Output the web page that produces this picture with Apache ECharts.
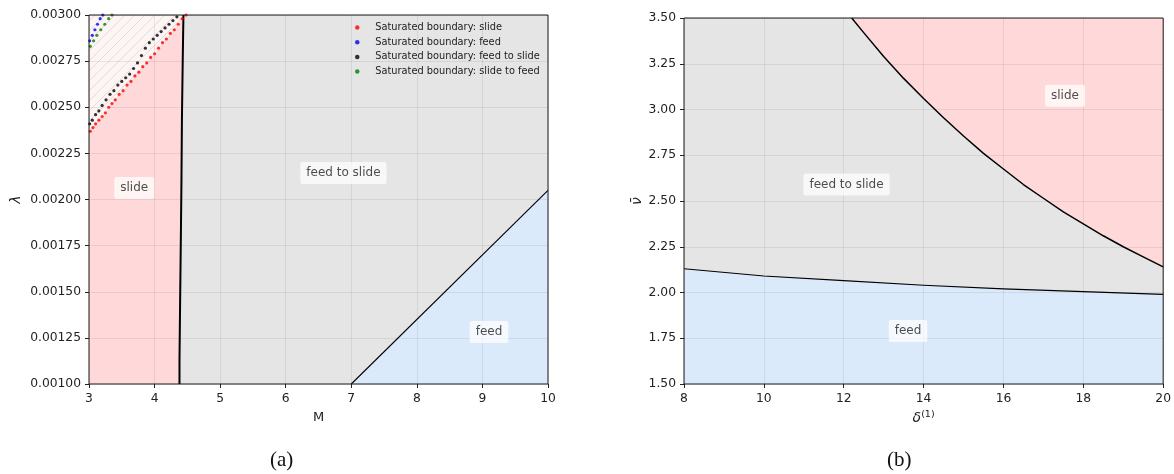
<!DOCTYPE html>
<html><head><meta charset="utf-8">
<script src="https://cdn.jsdelivr.net/npm/echarts@6/dist/echarts.min.js"></script>
<style>html,body{margin:0;padding:0;background:#fff}#c{width:1174px;height:474px}</style>
</head><body><div id="c"></div>
<script>
// ---------- tick labels ----------
const leftXTicks = [3, 4, 5, 6, 7, 8, 9, 10];
const leftYTicks = [0.001, 0.00125, 0.0015, 0.00175, 0.002, 0.00225, 0.0025, 0.00275, 0.003];
const rightXTicks = [8, 10, 12, 14, 16, 18, 20];
const rightYTicks = [1.5, 1.75, 2.0, 2.25, 2.5, 2.75, 3.0, 3.25, 3.5];

// ---------- panel (a): M vs lambda ----------
const slideBoundaryA = [[4.38,0.001],[4.38,0.00113],[4.39,0.00113],[4.39,0.00146],[4.40,0.00146],[4.40,0.00177],
  [4.41,0.00177],[4.41,0.0021],[4.417,0.0021],[4.417,0.00243],[4.43,0.00243],[4.43,0.00277],[4.44,0.00277],[4.44,0.003]];
const feedBoundaryA = [[7,0.001],[10,0.00205]];
const satSlide = [[3.02,0.00237],[3.06,0.00239],[3.10,0.00241],[3.15,0.00243],[3.20,0.00245],[3.25,0.00247],[3.30,0.00250],
  [3.35,0.00252],[3.40,0.00254],[3.46,0.00257],[3.52,0.00259],[3.58,0.00262],[3.64,0.00264],[3.70,0.00267],[3.76,0.00269],
  [3.82,0.00272],[3.88,0.00274],[3.94,0.00277],[4.00,0.00279],[4.06,0.00282],[4.12,0.00285],[4.18,0.00287],[4.24,0.00290],
  [4.30,0.00292],[4.36,0.00295],[4.42,0.00298],[4.48,0.00300]];
const satFeed = [[3.01,0.00286],[3.05,0.00289],[3.09,0.00292],[3.13,0.00295],[3.17,0.00298],[3.21,0.00300]];
const satFeedToSlide = [[3.01,0.00241],[3.05,0.00243],[3.10,0.00246],[3.15,0.00248],[3.20,0.00251],[3.26,0.00254],
  [3.32,0.00257],[3.38,0.00259],[3.44,0.00262],[3.50,0.00264],[3.56,0.00266],[3.62,0.00268],[3.68,0.00271],[3.74,0.00274],
  [3.80,0.00278],[3.86,0.00282],[3.92,0.00285],[3.98,0.00287],[4.04,0.00289],[4.10,0.00291],[4.16,0.00293],[4.22,0.00295],
  [4.28,0.00297],[4.34,0.00299]];
const satSlideToFeed = [[3.02,0.00283],[3.07,0.00286],[3.12,0.00289],[3.18,0.00292],[3.24,0.00295],[3.30,0.00298],[3.35,0.00300]];
const regionLabelsA = [['slide',3.69,0.002062],['feed to slide',6.88,0.002144],['feed',9.1,0.001282]];

// ---------- panel (b): delta vs nu ----------
const slideBoundaryB = [[12.2,3.50],[12.5,3.42],[13,3.29],[13.5,3.17],[14,3.06],[14.5,2.955],[15,2.855],[15.5,2.76],[16,2.675],
  [16.5,2.59],[17,2.515],[17.5,2.44],[18,2.375],[18.5,2.31],[19,2.25],[19.5,2.195],[20,2.14]];
const feedBoundaryB = [[8,2.13],[10,2.09],[12,2.065],[14,2.04],[16,2.02],[18,2.005],[20,1.99]];
const regionLabelsB = [['slide',17.54,3.075],['feed to slide',12.07,2.59],['feed',13.61,1.79]];

const legendNames = ['Saturated boundary: slide','Saturated boundary: feed','Saturated boundary: feed to slide','Saturated boundary: slide to feed'];

// ---------- styles ----------
const PINK = '#ffd9d9', BLUE = '#dbeafb', GRAY = '#e5e5e5';
const FONT = 'DejaVu Sans';
const TICKFONT = 12.3;
const hatch = (function(){
  const cv = document.createElement('canvas'); cv.width = 10; cv.height = 10;
  const c = cv.getContext('2d');
  c.fillStyle = '#fdf4f4'; c.fillRect(0,0,10,10);
  c.strokeStyle = '#dccfcf'; c.lineWidth = 0.7;
  c.beginPath(); c.moveTo(0,10); c.lineTo(10,0); c.moveTo(-1,1); c.lineTo(1,-1); c.moveTo(9,11); c.lineTo(11,9); c.stroke();
  return {image: cv, repeat: 'repeat'};
})();

function first(a){return a[0];} function last(a){return a[a.length-1];}

function poly(pts, fill, idx, z){
  return {type:'custom', coordinateSystem:'cartesian2d', xAxisIndex:idx, yAxisIndex:idx, z:z||1, silent:true,
    data:[pts[0]],
    renderItem:function(params, api){
      return {type:'polygon', shape:{points: pts.map(p=>api.coord(p))}, style:{fill: fill}};
    }};
}
function frame(xt, yt, idx){
  return {type:'custom', coordinateSystem:'cartesian2d', xAxisIndex:idx, yAxisIndex:idx, z:8, silent:true,
    data:[[xt[0], yt[0]]],
    renderItem:function(params, api){
      const a = api.coord([first(xt), last(yt)]), b = api.coord([last(xt), first(yt)]);
      return {type:'rect', shape:{x:a[0], y:a[1], width:b[0]-a[0], height:b[1]-a[1]},
        style:{fill:'none', stroke:'#1a1a1a', lineWidth:1}};
    }};
}
function line(pts, idx, w){
  return {type:'line', xAxisIndex:idx, yAxisIndex:idx, data:pts, showSymbol:false, symbol:'none', z:4, silent:true,
    lineStyle:{color:'#000', width:w, join:'round'}};
}
function dots(name, pts, color){
  return {type:'scatter', name:name, xAxisIndex:0, yAxisIndex:0, data:pts, symbolSize:3.2, z:5, silent:true,
    itemStyle:{color:color}};
}
function labels(list, idx){
  return {type:'scatter', xAxisIndex:idx, yAxisIndex:idx, symbolSize:0, z:9, silent:true,
    data:list.map(r=>({name:r[0], value:[r[1], r[2]]})),
    label:{show:true, position:'inside', formatter:'{b}', color:'#222', fontFamily:FONT, fontSize:12,
      backgroundColor:'rgba(255,255,255,0.92)', padding:[5,6,5,6], borderRadius:2}};
}
function xAxis(t, idx, name, nameGap, nameStyle){
  return {type:'value', gridIndex:idx, min:first(t), max:last(t), interval:t[1]-t[0], z:2,
    name:name, nameLocation:'middle', nameGap:nameGap, nameTextStyle:nameStyle,
    axisLine:{show:false}, axisTick:{show:true, length:4, lineStyle:{color:'#222'}},
    axisLabel:{color:'#222', fontFamily:FONT, fontSize:TICKFONT, margin:9},
    splitLine:{show:true, lineStyle:{color:'rgba(0,0,0,0.075)', width:1}}};
}
function yAxis(t, idx, name, nameGap, dec, nameStyle){
  return {type:'value', gridIndex:idx, min:first(t), max:last(t), interval:t[1]-t[0], z:2,
    name:name, nameLocation:'middle', nameGap:nameGap, nameRotate:90, nameTextStyle:nameStyle,
    axisLine:{show:false}, axisTick:{show:true, length:4, lineStyle:{color:'#222'}},
    axisLabel:{color:'#222', fontFamily:FONT, fontSize:TICKFONT, margin:8, formatter:v=>v.toFixed(dec)},
    splitLine:{show:true, lineStyle:{color:'rgba(0,0,0,0.075)', width:1}}};
}

const pinkA = [[3,0.001]].concat(slideBoundaryA, [[3,0.003]]);
const hatchA = [[3,0.003],[3,first(satSlide)[1]]].concat(satSlide, [[last(satSlide)[0],0.003]]);
const blueA = feedBoundaryA.concat([[10,0.001]]);
const pinkB = slideBoundaryB.concat([[20,3.5]]);
const blueB = [[8,1.5]].concat(feedBoundaryB, [[20,1.5]]);

const chart = echarts.init(document.getElementById('c'), null, {renderer:'canvas'});
chart.setOption({
  animation:false,
  backgroundColor:'#fff',
  grid:[
    {left:89, right:626, top:15, bottom:90, show:true, backgroundColor:GRAY, borderWidth:0},
    {left:684, right:8, top:18, bottom:90, show:true, backgroundColor:GRAY, borderWidth:0}
  ],
  xAxis:[
    xAxis(leftXTicks, 0, 'M', 27, {color:'#222', fontFamily:FONT, fontSize:13}),
    xAxis(rightXTicks, 1, '{d|δ}{s|(1)}', 23, {rich:{d:{fontFamily:FONT, fontStyle:'italic', fontSize:14, color:'#222', lineHeight:16},
      s:{fontFamily:FONT, fontSize:9.5, color:'#222', verticalAlign:'top', lineHeight:11}}})
  ],
  yAxis:[
    yAxis(leftYTicks, 0, 'λ', 66, 5, {color:'#222', fontFamily:FONT, fontSize:14, fontStyle:'italic'}),
    yAxis(rightYTicks, 1, 'ν\u0304', 40, 2, {color:'#222', fontFamily:FONT, fontSize:14, fontStyle:'italic'})
  ],
  legend:{
    data:legendNames, orient:'vertical', left:355, top:21.5, icon:'circle', itemWidth:26, itemHeight:4.5, itemGap:2.7,
    padding:0, selectedMode:false,
    textStyle:{color:'#222', fontFamily:FONT, fontSize:9.8, lineHeight:12}
  },
  graphic:[
    {type:'text', left:270, top:450, style:{text:'(a)', fontFamily:'Liberation Serif', fontSize:21, fill:'#111'}},
    {type:'text', left:887, top:450, style:{text:'(b)', fontFamily:'Liberation Serif', fontSize:21, fill:'#111'}}
  ],
  series:[
    poly(pinkA, PINK, 0, 1),
    poly(hatchA, hatch, 0, 1),
    poly(blueA, BLUE, 0, 1),
    line(slideBoundaryA, 0, 2),
    line(feedBoundaryA, 0, 1.1),
    dots(legendNames[0], satSlide, '#ff0000'),
    dots(legendNames[1], satFeed, '#0000ff'),
    dots(legendNames[2], satFeedToSlide, '#000000'),
    dots(legendNames[3], satSlideToFeed, '#008000'),
    labels(regionLabelsA, 0),
    frame(leftXTicks, leftYTicks, 0),
    poly(pinkB, PINK, 1, 1),
    poly(blueB, BLUE, 1, 1),
    line(slideBoundaryB, 1, 1.5),
    line(feedBoundaryB, 1, 1.1),
    labels(regionLabelsB, 1),
    frame(rightXTicks, rightYTicks, 1)
  ]
});
</script></body></html>
